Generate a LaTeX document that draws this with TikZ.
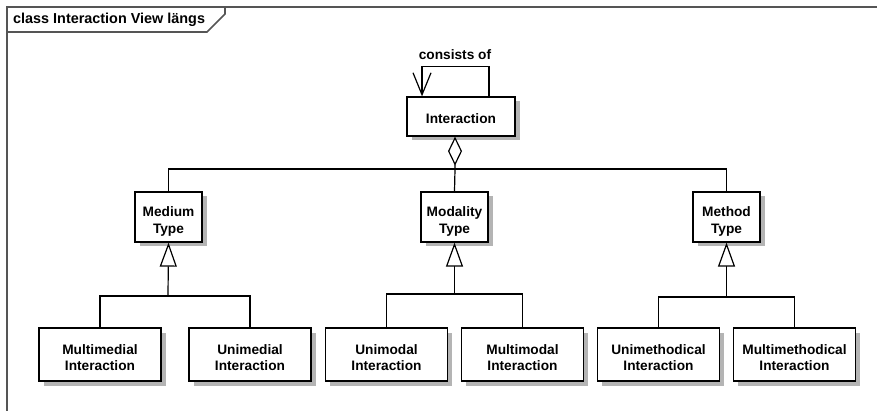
\documentclass[tikz,border=0pt]{standalone}
\usepackage{fontspec}
\setmainfont{Liberation Sans}
\usetikzlibrary{arrows.meta,shadows,calc}
\definecolor{framegray}{HTML}{555555}
\definecolor{shadowgray}{HTML}{B4B4B4}
\begin{document}
\begin{tikzpicture}[x=1pt,y=-1pt,
  txt/.style={font=\bfseries\fontsize{13.7}{16.7}\selectfont},
  cls/.style={draw=black, line width=1.3pt, fill=white,
    inner sep=0pt,
    drop shadow={shadow xshift=4.5pt, shadow yshift=-4.5pt, fill=shadowgray, opacity=1}},
  leaf/.style={cls, minimum width=122pt, minimum height=53pt},
  kind/.style={cls, minimum width=67pt, minimum height=50pt},
  lbl/.style={label={[txt, align=center, yshift=#1]center:}},
  conn/.style={draw=black, line width=1.2pt},
  aggr/.style={conn, {Diamond[fill=white, length=29pt, width=14pt]}-},
  gen/.style={conn, -{Triangle[fill=white, length=24pt, width=17pt]}},
  loopar/.style={conn, -{Straight Barb[length=22pt, width=18pt]}},
  frameln/.style={draw=framegray, line width=1.6pt}
]
\useasboundingbox (0,0) rectangle (877,411);
\fill[white] (0,0) rectangle (877,411);

% frame
\draw[frameln] (877,7) -- (7,7) -- (7,411);
\draw[frameln] (7,32) -- (207,32) -- (225,14) -- (225,7);
\node[anchor=west, font=\bfseries\fontsize{14.4}{16}\selectfont, inner sep=0pt] (title) at (13,20) {class Interaction View längs};

% classes
\node[cls, minimum width=108pt, minimum height=39pt,
  label={[txt, yshift=-2pt]center:Interaction}] (int) at (461,116.5) {};
\node[kind, label={[txt, align=center, yshift=-4.5pt]center:{Medium\\Type}}] (med) at (168.5,217) {};
\node[kind, label={[txt, align=center, yshift=-4.5pt]center:{Modality\\Type}}] (mod) at (454.5,217) {};
\node[kind, label={[txt, align=center, yshift=-4.5pt]center:{Method\\Type}}] (met) at (726.5,217) {};

\node[leaf, label={[txt, align=center, yshift=-3pt]center:{Multimedial\\Interaction}}] (mmed) at (100,354.5) {};
\node[leaf, label={[txt, align=center, yshift=-3pt]center:{Unimedial\\Interaction}}] (umed) at (250,354.5) {};
\node[leaf, label={[txt, align=center, yshift=-3pt]center:{Unimodal\\Interaction}}] (umod) at (386.5,354.5) {};
\node[leaf, label={[txt, align=center, yshift=-3pt]center:{Multimodal\\Interaction}}] (mmod) at (522.5,354.5) {};
\node[leaf, label={[txt, align=center, yshift=-3pt]center:{Unimethodical\\Interaction}}] (umet) at (658.5,354.5) {};
\node[leaf, label={[txt, align=center, yshift=-3pt]center:{Multimethodical\\Interaction}}] (mmet) at (794.5,354.5) {};

% self association
\draw[loopar] ($(int.north)+(28,0)$) -- ++(0,-30) -| ($(int.north)+(-39,0)$);
\node[txt] (cons) at (455,55) {consists of};

% aggregation bus
\coordinate (j1) at (455,169);
\draw[aggr] (int.south -| j1) -- (j1) -- (mod.north);
\draw[conn] (med.north) |- (j1);
\draw[conn] (met.north) |- (j1);

% generalizations
\coordinate (gmed) at (168,296);
\draw[gen] (gmed) -- (med.south);
\draw[conn] (mmed.north) |- (gmed) -| (umed.north);

\coordinate (gmod) at (454.5,294);
\draw[gen] (gmod) -- (mod.south);
\draw[conn] (umod.north) |- (gmod) -| (mmod.north);

\coordinate (gmet) at (726.5,297);
\draw[gen] (gmet) -- (met.south);
\draw[conn] (umet.north) |- (gmet) -| (mmet.north);
\end{tikzpicture}
\end{document}
